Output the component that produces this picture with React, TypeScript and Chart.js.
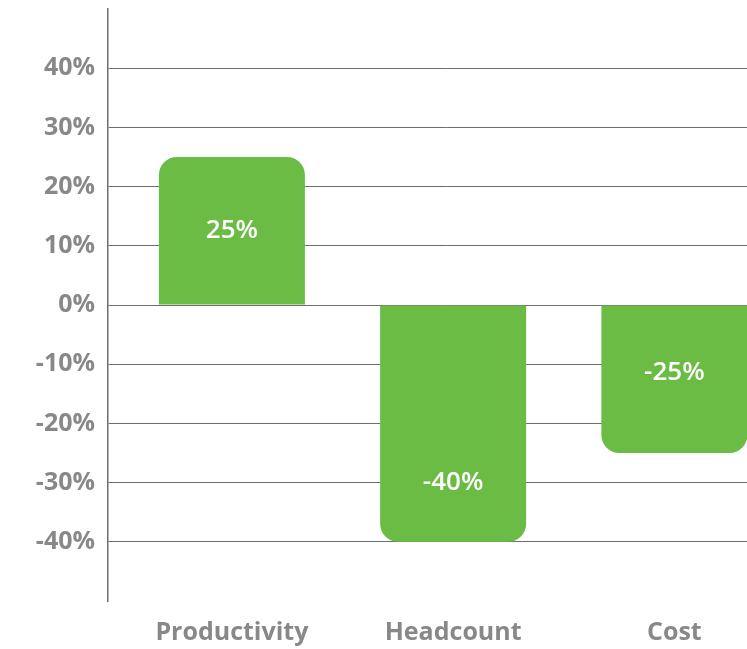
import React, { useEffect, useRef } from "react";
import { Chart, registerables } from "chart.js";

Chart.register(...registerables);

const categories = ["Productivity", "Headcount", "Cost"];
const values = [25, -40, -25];
const yTicks = [-40, -30, -20, -10, 0, 10, 20, 30, 40];

const GREEN = "#6bbc45";
const GRAY_TEXT = "#888888";
const GRID = "#6e6e6e";
const FONT = "'Open Sans', Lato, sans-serif";

// where inside each bar its label sits (fraction of bar length from the zero line)
const labelFractions = [0.5, 0.75, 0.46];

const labelPlugin = {
  id: "barLabels",
  afterDatasetsDraw(chart: any) {
    const ctx = chart.ctx;
    const meta = chart.getDatasetMeta(0);
    const yScale = chart.scales.y;
    ctx.save();
    ctx.fillStyle = "#ffffff";
    ctx.font = `600 26px ${FONT}`;
    ctx.textAlign = "center";
    ctx.textBaseline = "middle";
    meta.data.forEach((el: any, i: number) => {
      const v = values[i];
      const y = yScale.getPixelForValue(v * (labelFractions[i] ?? 0.5));
      ctx.fillText(`${v}%`, el.x, y);
    });
    ctx.restore();
  },
};

export default function App() {
  const ref = useRef<HTMLCanvasElement>(null);
  useEffect(() => {
    document.body.style.margin = "0";
    if (!ref.current) return;
    const chart = new Chart(ref.current, {
      type: "bar",
      data: {
        datasets: [
          {
            data: values.map((v, i) => ({ x: i, y: v })),
            backgroundColor: GREEN,
            borderRadius: 18,
            borderSkipped: "start",
            barPercentage: 0.66,
            categoryPercentage: 1,
          },
        ],
      },
      options: {
        responsive: false,
        animation: false,
        layout: { padding: { top: 9, right: 5, left: 0, bottom: 0 } },
        plugins: { legend: { display: false }, tooltip: { enabled: false } },
        scales: {
          x: {
            type: "linear",
            offset: false,
            min: -0.56,
            max: 2.5,
            afterBuildTicks: (scale: any) => {
              scale.ticks = categories.map((_, i) => ({ value: i }));
            },
            afterFit: (scale: any) => {
              scale.height = 48;
              scale.paddingLeft = 0;
              scale.paddingRight = 0;
            },
            ticks: {
              callback: (v: any) => categories[Number(v)] ?? "",
              color: GRAY_TEXT,
              font: { family: FONT, size: 25, weight: "bold" },
              padding: 17,
              maxRotation: 0,
              autoSkip: false,
            },
            grid: { display: false, drawTicks: false, offset: false },
            border: { display: false },
          },
          y: {
            min: -50,
            max: 50,
            afterBuildTicks: (scale: any) => {
              scale.ticks = yTicks.map((v) => ({ value: v }));
            },
            afterFit: (scale: any) => {
              scale.width = 108;
              scale.paddingTop = 0;
              scale.paddingBottom = 0;
            },
            ticks: {
              callback: (v: any) => `${v}%`,
              color: GRAY_TEXT,
              font: { family: FONT, size: 25, weight: "bold" },
              padding: 13,
            },
            grid: { color: GRID, lineWidth: 1, drawTicks: false },
            border: { display: true, color: GRID, width: 1.5 },
          },
        },
      },
      plugins: [labelPlugin],
    } as any);
    return () => chart.destroy();
  }, []);
  return (
    <div style={{ width: 747, height: 649, overflow: "hidden" }}>
      <canvas ref={ref} width={790} height={649} style={{ display: "block" }} />
    </div>
  );
}
